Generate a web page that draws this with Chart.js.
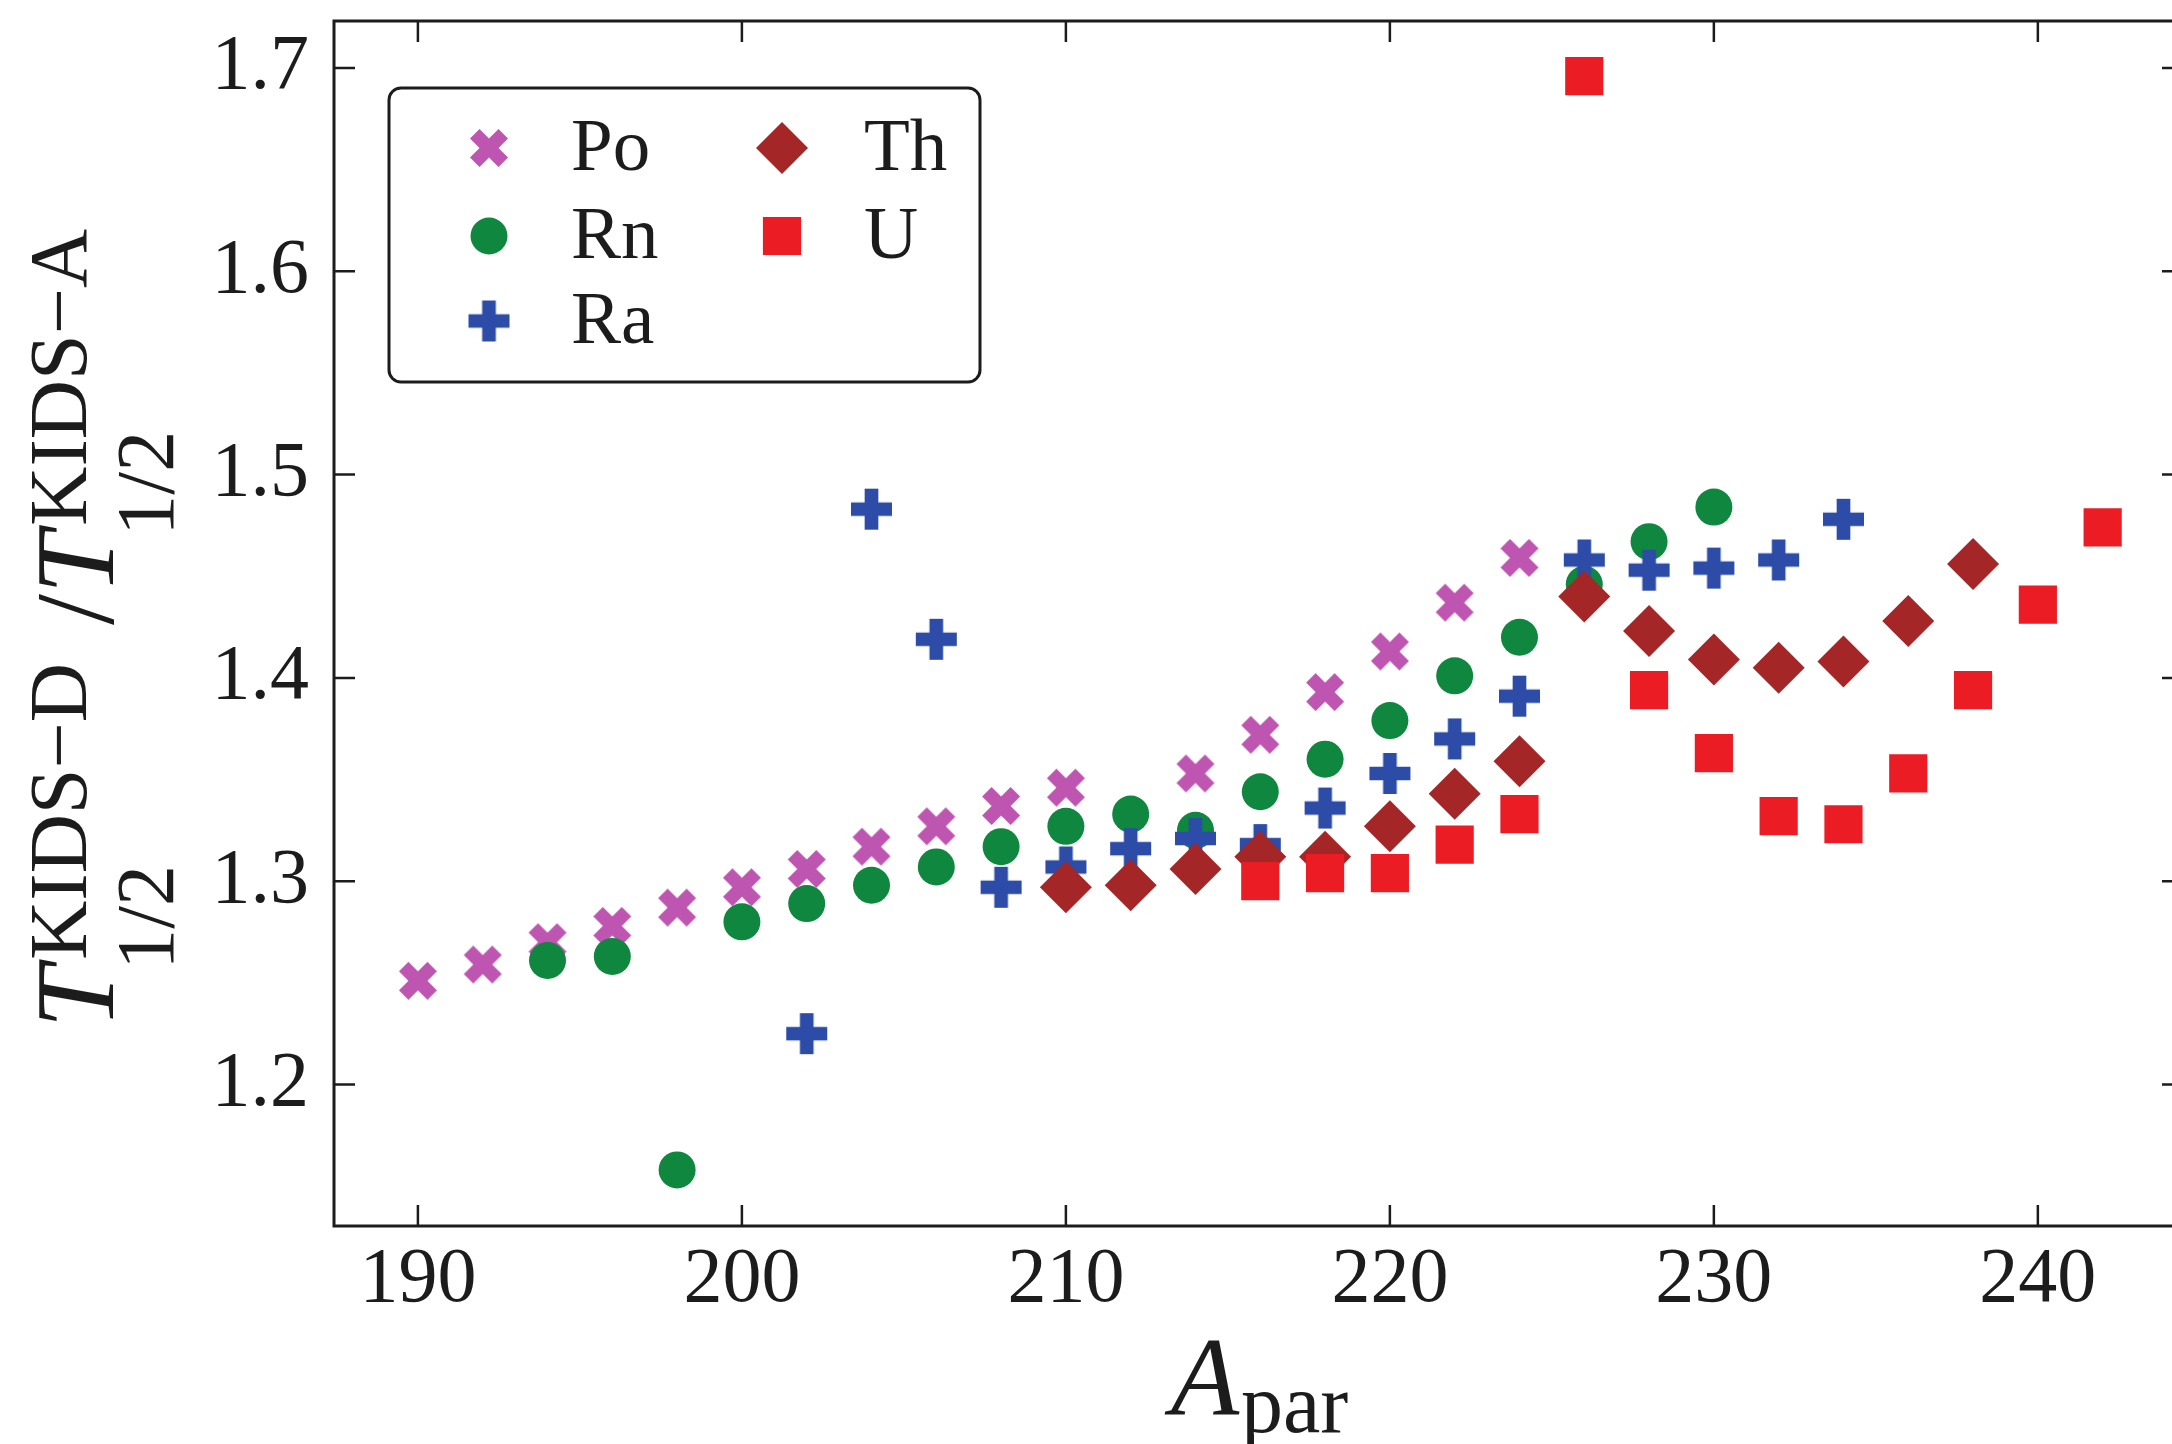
<!DOCTYPE html>
<html>
<head>
<meta charset="utf-8">
<script src="https://cdn.jsdelivr.net/npm/chart.js@4.4.1/dist/chart.umd.min.js"></script>
<style>
  html, body { margin: 0; padding: 0; background: #fff; overflow: hidden; }
  #wrap { width: 2190px; height: 1444px; }
</style>
</head>
<body>
<div id="wrap"><canvas id="ratioChart" width="2190" height="1444"></canvas></div>
<script>
// Parent mass numbers and half-life ratios, one pair of arrays per element
const poA = [190, 192, 194, 196, 198, 200, 202, 204, 206, 208, 210, 214, 216, 218, 220, 222, 224];
const poRatio = [1.251, 1.259, 1.270, 1.278, 1.287, 1.297, 1.306, 1.317, 1.327, 1.337, 1.346, 1.353, 1.372, 1.393, 1.413, 1.437, 1.459];

const rnA = [194, 196, 198, 200, 202, 204, 206, 208, 210, 212, 214, 216, 218, 220, 222, 224, 226, 228, 230];
const rnRatio = [1.261, 1.263, 1.158, 1.280, 1.289, 1.298, 1.307, 1.317, 1.327, 1.333, 1.325, 1.344, 1.360, 1.379, 1.401, 1.420, 1.446, 1.467, 1.484];

const raA = [202, 204, 206, 208, 210, 212, 214, 216, 218, 220, 222, 224, 226, 228, 230, 232, 234];
const raRatio = [1.225, 1.483, 1.419, 1.297, 1.307, 1.316, 1.321, 1.318, 1.336, 1.353, 1.370, 1.391, 1.458, 1.453, 1.454, 1.458, 1.478];

const thA = [210, 212, 214, 216, 218, 220, 222, 224, 226, 228, 230, 232, 234, 236, 238];
const thRatio = [1.297, 1.298, 1.306, 1.312, 1.312, 1.327, 1.343, 1.359, 1.440, 1.423, 1.409, 1.405, 1.408, 1.428, 1.456];

const uA = [216, 218, 220, 222, 224, 226, 228, 230, 232, 234, 236, 238, 240, 242];
const uRatio = [1.300, 1.304, 1.304, 1.318, 1.333, 1.696, 1.394, 1.363, 1.332, 1.328, 1.353, 1.394, 1.436, 1.474];

const xTicks = [190, 200, 210, 220, 230, 240];
const yTicks = [1.2, 1.3, 1.4, 1.5, 1.6, 1.7];

const SERIF = '"Liberation Serif", "DejaVu Serif", serif';
const INK = '#1c1c1c';

// filled plus / filled x outlines (unit size, centred)
const plusPath = [[-1,-3],[-1,-1],[-3,-1],[-3,1],[-1,1],[-1,3],[1,3],[1,1],[3,1],[3,-1],[1,-1],[1,-3]].map(([a, b]) => [a / 6, b / 6]);
const xPath = [[-1,-2],[0,-1],[1,-2],[2,-1],[1,0],[2,1],[1,2],[0,1],[-1,2],[-2,1],[-1,0],[-2,-1]].map(([a, b]) => [a / 4, b / 4]);

function markerCanvas(path, size, color) {
  const c = document.createElement('canvas');
  c.width = c.height = Math.ceil(size) + 2;
  const g = c.getContext('2d');
  const m = c.width / 2;
  g.fillStyle = color;
  g.beginPath();
  path.forEach(([px, py], i) => {
    const x = m + px * size, y = m + py * size;
    if (i) g.lineTo(x, y); else g.moveTo(x, y);
  });
  g.closePath();
  g.fill();
  return c;
}

const colors = {
  po: '#be55b0',
  rn: '#0f873f',
  ra: '#2c4ca7',
  th: '#a52626',
  u: '#ec1c24'
};

const series = [
  { label: 'Po', xs: poA, ys: poRatio, color: colors.po, style: markerCanvas(xPath, 38, colors.po), radius: 19, order: 5 },
  { label: 'Rn', xs: rnA, ys: rnRatio, color: colors.rn, style: 'circle', radius: 18.5, order: 4 },
  { label: 'Ra', xs: raA, ys: raRatio, color: colors.ra, style: markerCanvas(plusPath, 41, colors.ra), radius: 20, order: 3 },
  { label: 'Th', xs: thA, ys: thRatio, color: colors.th, style: 'rectRot', radius: 26, order: 2 },
  { label: 'U', xs: uA, ys: uRatio, color: colors.u, style: 'rect', radius: 27, order: 1 }
];

const datasets = series.map(s => ({
  label: s.label,
  data: s.xs.map((a, i) => ({ x: a, y: s.ys[i] })),
  pointStyle: s.style,
  pointRadius: s.radius,
  pointHoverRadius: s.radius,
  pointBorderWidth: 0,
  pointBackgroundColor: s.color,
  pointBorderColor: s.color,
  order: s.order
}));

// Box, inward ticks on all four sides
const framePlugin = {
  id: 'frame',
  afterDraw(chart) {
    const { ctx, chartArea: a, scales: { x, y } } = chart;
    const tick = 21;
    ctx.save();
    ctx.strokeStyle = INK;
    ctx.lineWidth = 2.5;
    ctx.beginPath();
    xTicks.forEach(v => {
      const px = x.getPixelForValue(v);
      ctx.moveTo(px, a.bottom); ctx.lineTo(px, a.bottom - tick);
      ctx.moveTo(px, a.top); ctx.lineTo(px, a.top + tick);
    });
    yTicks.forEach(v => {
      const py = y.getPixelForValue(v);
      ctx.moveTo(a.left, py); ctx.lineTo(a.left + tick, py);
      ctx.moveTo(a.right, py); ctx.lineTo(a.right - tick, py);
    });
    ctx.stroke();
    ctx.lineWidth = 3;
    ctx.strokeRect(a.left, a.top, a.right - a.left, a.bottom - a.top);
    ctx.restore();
  }
};

// Two-column legend inside the axes
const legendPlugin = {
  id: 'boxLegend',
  afterDraw(chart) {
    const { ctx } = chart;
    const box = { x: 389, y: 88, w: 591, h: 294, r: 12 };
    ctx.save();
    ctx.fillStyle = 'rgba(255,255,255,0.9)';
    ctx.strokeStyle = INK;
    ctx.lineWidth = 3;
    ctx.beginPath();
    ctx.roundRect(box.x, box.y, box.w, box.h, box.r);
    ctx.fill();
    ctx.stroke();

    const cols = [489, 782];
    const rows = [148, 236, 321];
    const slots = [[0, 0], [0, 1], [0, 2], [1, 0], [1, 1]];
    ctx.font = '75px ' + SERIF;
    ctx.textBaseline = 'middle';
    ctx.textAlign = 'left';
    series.forEach((s, i) => {
      const [c, r] = slots[i];
      const mx = cols[c], my = rows[r];
      ctx.fillStyle = s.color;
      ctx.strokeStyle = s.color;
      Chart.helpers.drawPoint(ctx, { pointStyle: s.style, radius: s.radius, rotation: 0, borderWidth: 0 }, mx, my);
      ctx.fillStyle = INK;
      ctx.fillText(s.label, mx + 82, my + 2);
    });
    ctx.restore();
  }
};

// Axis titles with sub- and superscripts
const titlePlugin = {
  id: 'mathTitles',
  afterDraw(chart) {
    const { ctx, chartArea: a } = chart;
    const mainIt = 'italic 112px ' + SERIF;
    const mainUp = '112px ' + SERIF;
    const script = '82px ' + SERIF;
    ctx.save();
    ctx.fillStyle = INK;
    ctx.textBaseline = 'alphabetic';
    ctx.textAlign = 'left';

    // x title: A_par
    const xFont = 'italic 112px ' + SERIF;
    const subFont = '84px ' + SERIF;
    ctx.font = xFont;
    const wA = ctx.measureText('A').width;
    ctx.font = subFont;
    const wPar = ctx.measureText('par').width;
    const x0 = (a.left + a.right) / 2 - (wA + wPar) / 2;
    ctx.font = xFont;
    ctx.fillText('A', x0, 1415);
    ctx.font = subFont;
    ctx.fillText('par', x0 + wA + 2, 1432);

    // y title: T^{KIDS-D}_{1/2} / T^{KIDS-A}_{1/2}
    const parts = [
      { text: 'T', font: mainIt },
      { sup: 'KIDS\u2212D', sub: '1/2' },
      { text: ' /', font: mainUp },
      { text: 'T', font: mainIt },
      { sup: 'KIDS\u2212A', sub: '1/2' }
    ];
    const widths = parts.map(p => {
      if (p.text) { ctx.font = p.font; return ctx.measureText(p.text).width; }
      ctx.font = script;
      return Math.max(ctx.measureText(p.sup).width, ctx.measureText(p.sub).width) + 16;
    });
    const total = widths.reduce((s, w) => s + w, 0);
    ctx.translate(113, (a.top + a.bottom) / 2);
    ctx.rotate(-Math.PI / 2);
    let cx = -total / 2;
    parts.forEach((p, i) => {
      if (p.text) {
        ctx.font = p.font;
        ctx.fillText(p.text, cx, 0);
      } else {
        ctx.font = script;
        ctx.fillText(p.sup, cx + 6, -27);
        ctx.fillText(p.sub, cx - 4, 60);
      }
      cx += widths[i];
    });
    ctx.restore();
  }
};

Chart.defaults.font.family = SERIF;
Chart.defaults.color = INK;

new Chart(document.getElementById('ratioChart'), {
  type: 'scatter',
  data: { datasets },
  options: {
    responsive: false,
    animation: false,
    layout: {
      autoPadding: false,
      // right spine lands just past the visible edge
      padding: { top: 21, left: 0, bottom: 0, right: 7 }
    },
    plugins: {
      legend: { display: false },
      tooltip: { enabled: false }
    },
    scales: {
      x: {
        type: 'linear',
        min: 187.41,
        max: 244.48,
        grid: { display: false, drawTicks: false },
        border: { display: false },
        afterBuildTicks: axis => { axis.ticks = xTicks.map(v => ({ value: v })); },
        afterFit: axis => {
          axis.height = 218;
          axis.paddingLeft = 0;
          axis.paddingRight = 0;
        },
        ticks: {
          font: { size: 78 },
          color: INK,
          padding: 8,
          maxRotation: 0,
          callback: v => String(v)
        }
      },
      y: {
        type: 'linear',
        min: 1.1304,
        max: 1.7231,
        grid: { display: false, drawTicks: false },
        border: { display: false },
        afterBuildTicks: axis => { axis.ticks = yTicks.map(v => ({ value: v })); },
        afterFit: axis => {
          axis.width = 334;
          axis.paddingTop = 0;
          axis.paddingBottom = 0;
        },
        ticks: {
          font: { size: 78 },
          color: INK,
          padding: 25,
          callback: v => v.toFixed(1)
        }
      }
    }
  },
  plugins: [framePlugin, legendPlugin, titlePlugin]
});
</script>
</body>
</html>
